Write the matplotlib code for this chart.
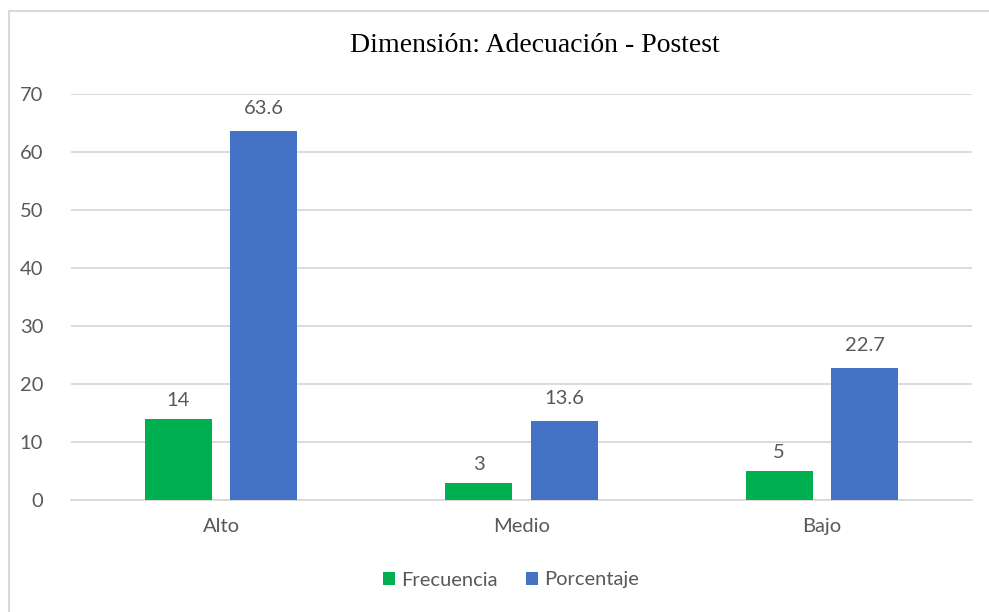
import matplotlib
matplotlib.use("Agg")
import matplotlib.pyplot as plt
import numpy as np
from matplotlib.lines import Line2D

categorias = ["Alto", "Medio", "Bajo"]
frecuencia = [14, 3, 5]
porcentaje = [63.6, 13.6, 22.7]
etiquetas_porc = ["63.6", "13.6", "22.7"]
yticks = [0, 10, 20, 30, 40, 50, 60, 70]

plt.rcParams["font.family"] = ["Lato", "DejaVu Sans"]
gris = "#595959"

fig = plt.figure(figsize=(9.89, 6.12), dpi=100)
W, H = 989, 612
ax = fig.add_axes([71 / W, (H - 500) / H, (972 - 71) / W, (500 - 94) / H])

# chart border (only top and left visible in the crop)
fig.lines.append(Line2D([9 / W, 9 / W], [0, (H - 11) / H], transform=fig.transFigure,
                        color="#D9D9D9", linewidth=1.5))
fig.lines.append(Line2D([9 / W, 1], [(H - 11) / H, (H - 11) / H], transform=fig.transFigure,
                        color="#D9D9D9", linewidth=1.5))

x = np.arange(len(categorias))
w = 0.223
off = 0.142
b1 = ax.bar(x - off, frecuencia, w, color="#00B050", label="Frecuencia", zorder=3)
b2 = ax.bar(x + off, porcentaje, w, color="#4472C4", label="Porcentaje", zorder=3)

for rect, v in zip(b1, frecuencia):
    ax.text(rect.get_x() + rect.get_width() / 2, v + 3.2, str(v), ha="center", va="center",
            fontsize=14.5, color=gris)
for rect, v, t in zip(b2, porcentaje, etiquetas_porc):
    ax.text(rect.get_x() + rect.get_width() / 2, v + 3.9, t, ha="center", va="center",
            fontsize=14.5, color=gris)

ax.set_xlim(-0.5, 2.5)
ax.set_ylim(0, 70)
ax.set_yticks(yticks)
ax.set_xticks(x)
ax.set_xticklabels(categorias)
ax.tick_params(axis="both", length=0, labelsize=14.5, colors=gris)
ax.tick_params(axis="y", pad=20)
ax.tick_params(axis="x", pad=13)
ax.grid(axis="y", color="#D9D9D9", linewidth=1.3, zorder=0)
for s in ["top", "right", "left"]:
    ax.spines[s].set_visible(False)
ax.spines["bottom"].set_color("#D9D9D9")
ax.spines["bottom"].set_linewidth(1.3)

fig.text(535 / W, (H - 45) / H, "Dimensión: Adecuación - Postest", ha="center", va="center",
         fontsize=20, family="Liberation Serif", color="black")

fig.legend(loc="center", bbox_to_anchor=(511 / W, (H - 580) / H), ncol=2, frameon=False,
           fontsize=14.5, labelcolor=gris, handlelength=0.6, handleheight=0.6,
           handletextpad=0.3, columnspacing=1.4)

fig.savefig("out.png", dpi=100)
